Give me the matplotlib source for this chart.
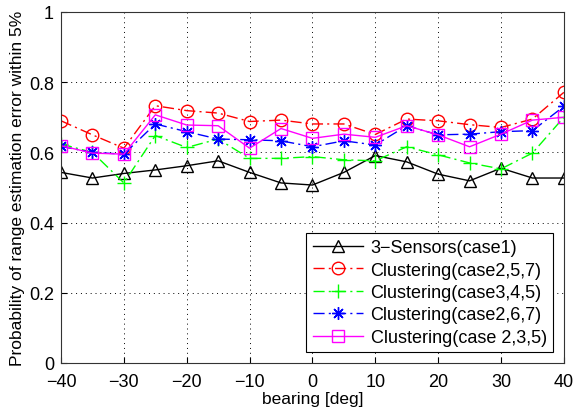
import numpy as np
import matplotlib
matplotlib.use('Agg')
import matplotlib.pyplot as plt

plt.rcParams['font.family'] = ['Liberation Sans', 'DejaVu Sans']

bearing = [-40, -35, -30, -25, -20, -15, -10, -5, 0, 5, 10, 15, 20, 25, 30, 35, 40]

sensors3 = [0.543, 0.527, 0.540, 0.550, 0.562, 0.576, 0.543, 0.513, 0.507,
            0.543, 0.591, 0.573, 0.538, 0.519, 0.555, 0.527, 0.527]
clus257 = [0.690, 0.650, 0.612, 0.733, 0.719, 0.712, 0.688, 0.692, 0.681,
           0.681, 0.651, 0.695, 0.690, 0.679, 0.671, 0.695, 0.771]
clus345 = [0.624, 0.600, 0.513, 0.648, 0.614, 0.638, 0.583, 0.583, 0.588,
           0.579, 0.576, 0.616, 0.593, 0.570, 0.553, 0.598, 0.700]
clus267 = [0.617, 0.600, 0.595, 0.681, 0.659, 0.638, 0.636, 0.633, 0.616,
           0.633, 0.621, 0.676, 0.650, 0.652, 0.659, 0.662, 0.731]
clus235 = [0.619, 0.598, 0.595, 0.707, 0.678, 0.676, 0.612, 0.668, 0.640,
           0.652, 0.643, 0.676, 0.650, 0.616, 0.652, 0.692, 0.700]

fig = plt.figure(figsize=(5.73, 4.14), dpi=100)
ax = fig.add_axes([0.1065, 0.1208, 0.8775, 0.8478])

dashdot = (0, (8, 3, 1.5, 3))
ax.plot(bearing, sensors3, '-', color='k', marker='^', mfc='none', ms=8, lw=1,
        label='3\u2212Sensors(case1)')
ax.plot(bearing, clus257, color='r', ls=dashdot, marker='o', mfc='none', ms=9, lw=1,
        label='Clustering(case2,5,7)')
ax.plot(bearing, clus345, color='#00ff00', ls=dashdot, marker='+', ms=10, lw=1,
        label='Clustering(case3,4,5)')
ax.plot(bearing, clus267, color='b', ls=dashdot, marker=(8, 2, 0), ms=9, lw=1,
        label='Clustering(case2,6,7)')
ax.plot(bearing, clus235, '-', color='#ff00ff', marker='s', mfc='none', ms=8, lw=1,
        label='Clustering(case 2,3,5)')

ax.set_xlim(-40, 40)
ax.set_ylim(0, 1)
ax.set_xticks(np.arange(-40, 41, 10))
ax.set_yticks([0, 0.2, 0.4, 0.6, 0.8, 1])
ax.set_xticklabels(['\u221240', '\u221230', '\u221220', '\u221210', '0', '10', '20', '30', '40'])
ax.set_yticklabels(['0', '0.2', '0.4', '0.6', '0.8', '1'])
ax.tick_params(direction='in', labelsize=13, length=4)
ax.tick_params(axis='x', pad=7)
ax.tick_params(axis='y', pad=5)
for s in ax.spines.values():
    s.set_color('#333333')
ax.grid(True, color='k', ls=(0, (1, 4)), lw=0.7)
ax.set_xlabel('bearing [deg]', fontsize=12.5, labelpad=1)
ax.set_ylabel('Probability of range estimation error within 5%', fontsize=12.5, labelpad=3)

leg = ax.legend(loc='lower right', fontsize=13, fancybox=False, framealpha=1,
                edgecolor='k', handlelength=2.8, borderpad=0.35, labelspacing=0.3,
                handletextpad=0.4, borderaxespad=0.6)
leg.get_frame().set_linewidth(0.8)

fig.savefig('out.png', dpi=100)
